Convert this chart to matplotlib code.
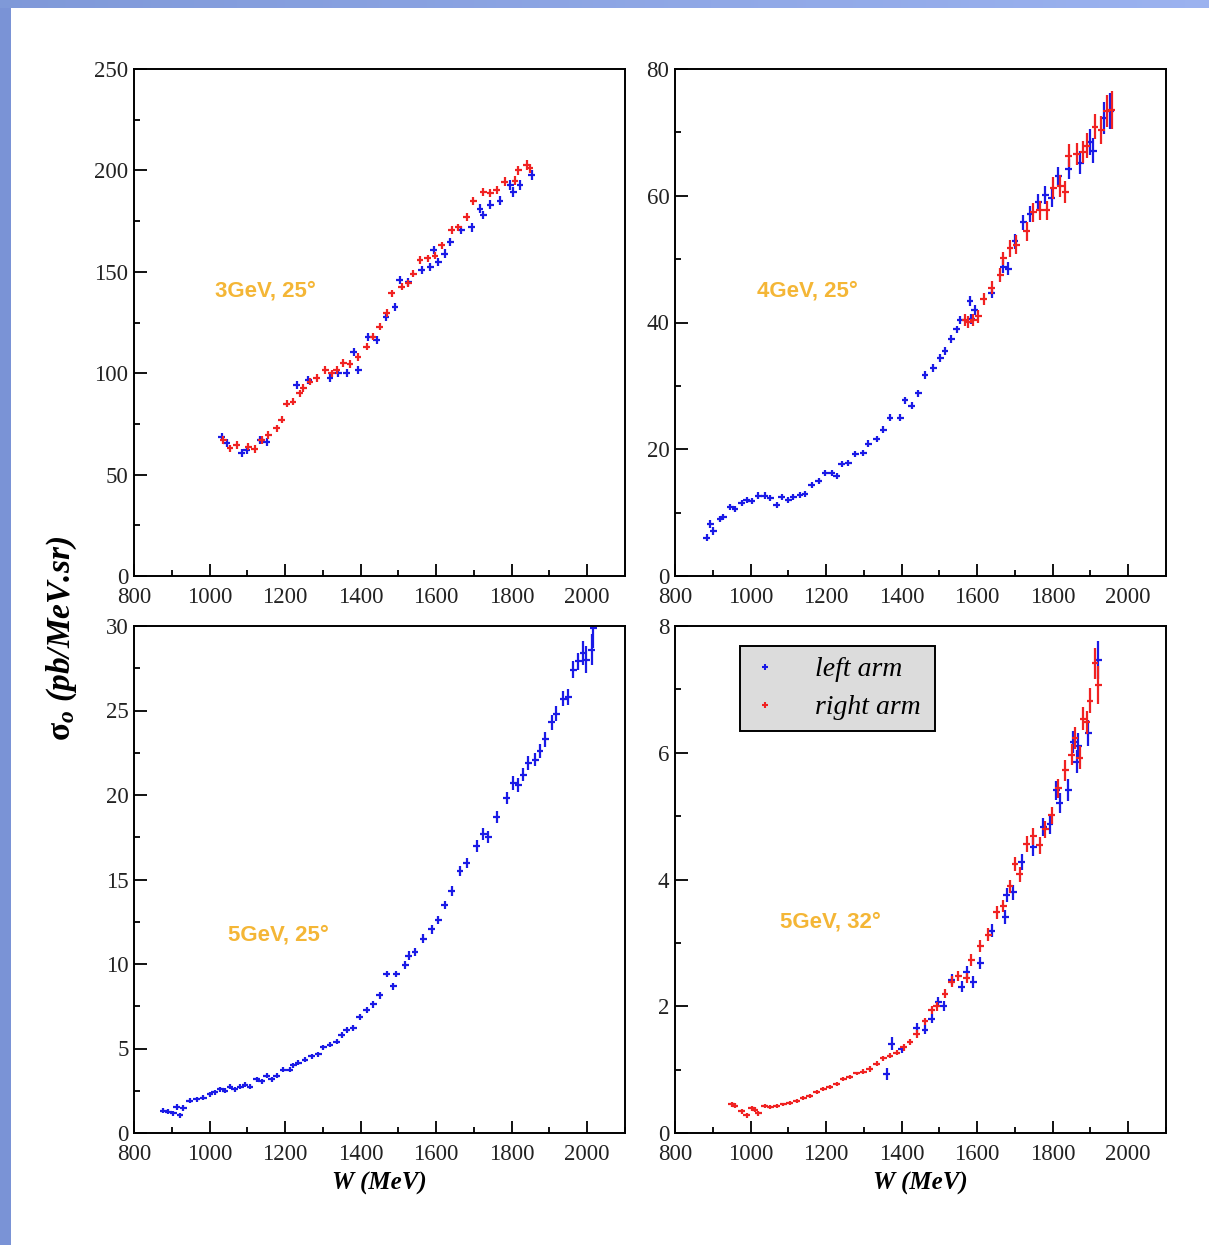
import numpy as np
import matplotlib
matplotlib.use('Agg')
import matplotlib.pyplot as plt
from matplotlib.lines import Line2D
from matplotlib.ticker import MultipleLocator

plt.rcParams['font.family'] = ['Liberation Serif', 'DejaVu Serif']
plt.rcParams['mathtext.fontset'] = 'custom'
plt.rcParams['mathtext.rm'] = 'Liberation Serif:bold'
plt.rcParams['mathtext.it'] = 'Liberation Serif:bold:italic'
plt.rcParams['mathtext.bf'] = 'Liberation Serif:bold'

# ---------------- data: (W [MeV], sigma, error) ----------------
p1_left = [(1032, 68.4, 2.0), (1045, 65.4, 2.0), (1085, 60.5, 2.0), (1098, 62.0, 2.0), (1134, 67.0, 2.0),
           (1151, 66.0, 2.0), (1231, 94.0, 2.0), (1262, 96.6, 2.0), (1319, 97.5, 2.0), (1341, 100.0, 2.0),
           (1363, 100.0, 2.0), (1382, 110.6, 2.0), (1394, 101.6, 2.0), (1420, 118.0, 2.0), (1443, 116.4, 2.0),
           (1467, 127.8, 2.0), (1491, 132.8, 2.0), (1504, 146.0, 2.0), (1526, 145.0, 2.0), (1562, 151.0, 2.0),
           (1584, 152.5, 2.0), (1593, 160.7, 2.0), (1606, 155.0, 2.0), (1623, 159.0, 2.0), (1637, 164.8, 2.0),
           (1667, 170.6, 2.0), (1694, 172.0, 2.2), (1716, 181.0, 2.2), (1725, 178.0, 2.2), (1743, 183.0, 2.2),
           (1769, 185.0, 2.2), (1796, 192.8, 2.4), (1804, 189.5, 2.4), (1822, 192.8, 2.4), (1853, 197.7, 2.5)]
p1_right = [(1036, 67.0, 1.8), (1054, 63.0, 1.8), (1072, 64.6, 1.8), (1103, 63.8, 1.8), (1120, 62.6, 1.8),
            (1138, 67.0, 1.8), (1156, 69.5, 1.8), (1178, 72.8, 1.8), (1191, 77.0, 1.8), (1204, 85.0, 1.8),
            (1221, 86.0, 1.8), (1239, 90.0, 1.8), (1248, 92.7, 1.8), (1266, 95.8, 1.8), (1284, 97.6, 1.8),
            (1306, 101.6, 1.8), (1323, 100.0, 1.8), (1337, 101.6, 1.8), (1354, 105.0, 1.8), (1372, 104.5, 1.8),
            (1393, 108.0, 1.8), (1416, 113.0, 1.8), (1433, 118.0, 1.8), (1451, 123.0, 1.8), (1469, 129.7, 1.8),
            (1482, 139.4, 1.8), (1509, 142.7, 1.8), (1526, 144.3, 1.8), (1540, 149.0, 1.8), (1557, 155.8, 1.8),
            (1578, 156.6, 1.8), (1597, 158.0, 1.8), (1615, 163.0, 1.8), (1641, 170.6, 1.8), (1659, 172.0, 1.8),
            (1681, 177.0, 2.0), (1698, 185.0, 2.0), (1725, 189.5, 2.0), (1743, 188.7, 2.0), (1760, 190.3, 2.0),
            (1782, 194.4, 2.2), (1809, 195.0, 2.2), (1817, 200.0, 2.2), (1840, 202.7, 2.4), (1848, 201.0, 2.4)]

p2_left = [(884, 6.05, 0.6), (893, 8.2, 0.6), (901, 7.1, 0.6), (919, 9.0, 0.5), (928, 9.3, 0.5),
           (946, 10.9, 0.5), (959, 10.6, 0.5), (977, 11.5, 0.5), (990, 12.0, 0.5), (1003, 11.8, 0.5),
           (1021, 12.7, 0.5), (1038, 12.7, 0.5), (1052, 12.3, 0.5), (1069, 11.2, 0.5), (1082, 12.5, 0.5),
           (1100, 12.0, 0.5), (1113, 12.5, 0.5), (1131, 12.8, 0.5), (1144, 12.9, 0.5), (1162, 14.4, 0.5),
           (1180, 15.0, 0.5), (1197, 16.3, 0.5), (1215, 16.3, 0.5), (1228, 15.8, 0.5), (1241, 17.7, 0.5),
           (1259, 17.8, 0.5), (1277, 19.3, 0.5), (1299, 19.4, 0.5), (1312, 20.9, 0.5), (1334, 21.6, 0.5),
           (1352, 23.1, 0.5), (1369, 25.0, 0.6), (1396, 25.0, 0.6), (1409, 27.7, 0.6), (1427, 26.9, 0.6),
           (1444, 28.8, 0.6), (1462, 31.7, 0.6), (1484, 32.8, 0.6), (1502, 34.4, 0.6), (1515, 35.5, 0.6),
           (1532, 37.4, 0.6), (1546, 38.9, 0.6), (1555, 40.4, 0.7), (1581, 43.4, 0.8), (1585, 40.6, 0.8),
           (1594, 42.0, 0.8), (1638, 44.7, 0.9), (1669, 48.8, 1.0), (1682, 48.5, 1.0), (1700, 52.8, 1.2),
           (1722, 55.8, 1.2), (1740, 57.1, 1.3), (1762, 59.0, 1.3), (1780, 60.1, 1.4), (1797, 59.6, 1.4),
           (1815, 63.1, 1.5), (1842, 64.2, 1.6), (1873, 65.2, 1.8), (1899, 68.5, 2.0), (1908, 67.1, 2.0),
           (1935, 72.3, 2.5), (1952, 73.4, 2.8)]
p2_right = [(1568, 40.4, 1.0), (1577, 40.1, 1.0), (1590, 40.4, 1.0), (1603, 41.0, 1.0), (1617, 43.7, 1.0),
            (1639, 45.5, 1.0), (1661, 47.5, 1.1), (1669, 50.1, 1.1), (1687, 51.7, 1.3), (1704, 52.3, 1.5),
            (1731, 54.4, 1.5), (1749, 57.4, 1.5), (1766, 57.7, 1.5), (1784, 57.7, 1.5), (1802, 61.2, 1.7),
            (1820, 61.5, 1.7), (1833, 60.6, 1.7), (1842, 66.3, 1.8), (1864, 66.6, 1.8), (1881, 66.9, 1.8),
            (1890, 67.9, 2.0), (1912, 70.9, 2.0), (1929, 70.4, 2.2), (1943, 73.4, 2.5), (1956, 73.6, 3.0)]

p3_left = [(878, 1.31, 0.15), (891, 1.27, 0.15), (904, 1.16, 0.15), (913, 1.54, 0.15), (922, 1.06, 0.15),
           (931, 1.48, 0.15), (948, 1.90, 0.15), (966, 2.0, 0.15), (984, 2.1, 0.15), (1001, 2.3, 0.15),
           (1014, 2.4, 0.15), (1028, 2.6, 0.15), (1041, 2.5, 0.15), (1054, 2.75, 0.15), (1067, 2.6, 0.15),
           (1081, 2.75, 0.15), (1094, 2.85, 0.15), (1107, 2.75, 0.15), (1125, 3.17, 0.15), (1138, 3.07, 0.15),
           (1151, 3.38, 0.15), (1165, 3.17, 0.15), (1178, 3.38, 0.15), (1195, 3.74, 0.15), (1213, 3.74, 0.15),
           (1222, 4.0, 0.15), (1235, 4.16, 0.15), (1253, 4.33, 0.15), (1270, 4.55, 0.15), (1288, 4.65, 0.15),
           (1301, 5.07, 0.15), (1319, 5.22, 0.15), (1337, 5.39, 0.15), (1350, 5.81, 0.18), (1363, 6.07, 0.18),
           (1381, 6.24, 0.18), (1398, 6.87, 0.18), (1416, 7.29, 0.18), (1434, 7.61, 0.2), (1451, 8.14, 0.2),
           (1469, 9.41, 0.2), (1487, 8.67, 0.2), (1495, 9.41, 0.2), (1518, 9.94, 0.25), (1527, 10.5, 0.25),
           (1544, 10.7, 0.25), (1566, 11.5, 0.25), (1588, 12.05, 0.25), (1606, 12.6, 0.25), (1623, 13.5, 0.25),
           (1641, 14.3, 0.3), (1663, 15.5, 0.3), (1681, 16.0, 0.3), (1707, 17.0, 0.35), (1725, 17.7, 0.35),
           (1738, 17.5, 0.35), (1760, 18.7, 0.35), (1787, 19.8, 0.35), (1804, 20.7, 0.4), (1818, 20.6, 0.4),
           (1831, 21.2, 0.4), (1844, 21.9, 0.4), (1862, 22.1, 0.4), (1875, 22.6, 0.4), (1889, 23.3, 0.45),
           (1906, 24.3, 0.45), (1918, 24.8, 0.45), (1937, 25.7, 0.45), (1950, 25.8, 0.45), (1963, 27.4, 0.5),
           (1976, 27.9, 0.5), (1989, 28.4, 0.7), (1998, 28.0, 0.8), (2012, 28.6, 0.9), (2016, 29.9, 1.2)]

p4_left = [(1360, 0.93, 0.10), (1374, 1.41, 0.10), (1400, 1.32, 0.06), (1440, 1.66, 0.07), (1462, 1.63, 0.07),
           (1480, 1.80, 0.07), (1497, 2.07, 0.08), (1511, 2.01, 0.08), (1533, 2.42, 0.09), (1559, 2.31, 0.09),
           (1572, 2.54, 0.09), (1590, 2.38, 0.09), (1608, 2.68, 0.1), (1639, 3.19, 0.1), (1674, 3.41, 0.11),
           (1678, 3.75, 0.11), (1696, 3.80, 0.12), (1718, 4.28, 0.13), (1749, 4.51, 0.14), (1775, 4.83, 0.14),
           (1793, 4.87, 0.15), (1810, 5.41, 0.15), (1819, 5.21, 0.16), (1841, 5.41, 0.17), (1855, 6.17, 0.18),
           (1868, 6.11, 0.2), (1864, 5.86, 0.18), (1894, 6.31, 0.2), (1921, 7.46, 0.3)]
p4_right = [(950, 0.45, 0.04), (959, 0.43, 0.04), (977, 0.34, 0.04), (990, 0.28, 0.04), (1003, 0.39, 0.04),
            (1012, 0.37, 0.04), (1021, 0.31, 0.04), (1038, 0.42, 0.03), (1052, 0.41, 0.03), (1069, 0.42, 0.03),
            (1087, 0.45, 0.03), (1104, 0.47, 0.03), (1122, 0.51, 0.03), (1140, 0.55, 0.03), (1157, 0.59, 0.03),
            (1175, 0.65, 0.03), (1193, 0.69, 0.03), (1210, 0.73, 0.03), (1228, 0.77, 0.03), (1246, 0.85, 0.03),
            (1263, 0.88, 0.03), (1281, 0.94, 0.03), (1299, 0.97, 0.04), (1316, 1.01, 0.04), (1334, 1.09, 0.04),
            (1352, 1.18, 0.04), (1369, 1.22, 0.04), (1387, 1.27, 0.04), (1405, 1.35, 0.05), (1422, 1.44, 0.05),
            (1440, 1.56, 0.06), (1462, 1.76, 0.06), (1480, 1.94, 0.06), (1493, 2.0, 0.07), (1515, 2.2, 0.07),
            (1533, 2.39, 0.08), (1550, 2.48, 0.08), (1572, 2.45, 0.08), (1585, 2.73, 0.09), (1608, 2.95, 0.09),
            (1630, 3.13, 0.1), (1652, 3.48, 0.1), (1669, 3.58, 0.1), (1687, 3.89, 0.11), (1700, 4.25, 0.11),
            (1713, 4.08, 0.12), (1731, 4.56, 0.12), (1749, 4.68, 0.13), (1766, 4.54, 0.13), (1780, 4.79, 0.14),
            (1797, 5.01, 0.14), (1815, 5.44, 0.15), (1833, 5.72, 0.16), (1850, 5.97, 0.17), (1859, 6.23, 0.17),
            (1872, 5.92, 0.18), (1881, 6.54, 0.18), (1890, 6.48, 0.18), (1899, 6.82, 0.2), (1912, 7.41, 0.25),
            (1921, 7.07, 0.3)]

labels = ['3GeV, 25°', '4GeV, 25°', '5GeV, 25°', '5GeV, 32°']
legend_labels = ['left arm', 'right arm']
W_BIN = 9  # half bin width in MeV

BLUE = '#1a1ae6'
RED = '#f02222'
ORANGE = '#f4b636'

# ---------------- figure ----------------
FW, FH = 1209, 1245
fig = plt.figure(figsize=(FW / 100, FH / 100), dpi=100)

# slide background: blue strips at left and top
bg = fig.add_axes([0, 0, 1, 1], zorder=-10)
img = np.ones((FH, FW, 3))
left_col = np.array([0.48, 0.58, 0.84])
img[:, :11, :] = left_col
tfrac = np.linspace(0, 1, FW)[:, None]
top_cols = (1 - tfrac) * np.array([0.50, 0.60, 0.85]) + tfrac * np.array([0.61, 0.70, 0.94])
img[:8, :, :] = top_cols[None, :, :]
bg.imshow(img, aspect='auto', extent=[0, 1, 0, 1])
bg.set_axis_off()

def frac(x0, y0, x1, y1):
    return [x0 / FW, 1 - y1 / FH, (x1 - x0) / FW, (y1 - y0) / FH]

panels = [
    dict(rect=frac(134, 69, 625, 576), ymax=250, major=50, minor=25,
         series=[(p1_left, BLUE), (p1_right, RED)], txt=(0.165, 0.562)),
    dict(rect=frac(675, 69, 1166, 576), ymax=80, major=20, minor=10,
         series=[(p2_left, BLUE), (p2_right, RED)], txt=(0.167, 0.562)),
    dict(rect=frac(134, 626, 625, 1133), ymax=30, major=5, minor=2.5,
         series=[(p3_left, BLUE)], txt=(0.191, 0.391)),
    dict(rect=frac(675, 626, 1166, 1133), ymax=8, major=2, minor=1,
         series=[(p4_left, BLUE), (p4_right, RED)], txt=(0.214, 0.416)),
]

axes = []
for i, p in enumerate(panels):
    ax = fig.add_axes(p['rect'])
    axes.append(ax)
    for data, col in p['series']:
        arr = np.array(data)
        ax.errorbar(arr[:, 0], arr[:, 1], xerr=W_BIN, yerr=arr[:, 2], fmt='none',
                    ecolor=col, elinewidth=1.6, capsize=0)
    ax.set_xlim(800, 2100)
    ax.set_ylim(0, p['ymax'])
    ax.xaxis.set_major_locator(MultipleLocator(200))
    ax.xaxis.set_minor_locator(MultipleLocator(100))
    ax.yaxis.set_major_locator(MultipleLocator(p['major']))
    ax.yaxis.set_minor_locator(MultipleLocator(p['minor']))
    ax.tick_params(which='both', direction='in', top=False, right=False,
                   labelsize=16.5, labelcolor='#222222', width=1.3)
    ax.tick_params(which='major', length=9)
    ax.tick_params(which='minor', length=4.5)
    ax.tick_params(axis='x', pad=8)
    ax.tick_params(axis='y', pad=4)
    for s in ax.spines.values():
        s.set_linewidth(1.4)
    ax.text(p['txt'][0], p['txt'][1], labels[i], transform=ax.transAxes,
            family='Liberation Sans', fontweight='bold', fontsize=16, color=ORANGE,
            ha='left', va='center')
    if i >= 2:
        ax.set_xlabel('W (MeV)', fontsize=18, fontweight='bold', style='italic', labelpad=5)

# legend in the last panel
handles = [Line2D([], [], color=BLUE, marker='+', markersize=5, markeredgewidth=1.5, linestyle='none'),
           Line2D([], [], color=RED, marker='+', markersize=5, markeredgewidth=1.5, linestyle='none')]
leg = axes[3].legend(handles, legend_labels, loc='upper left', bbox_to_anchor=(0.132, 0.961, 0.398, 0.0),
                     mode='expand', fancybox=False, framealpha=1, facecolor='#dcdcdc', edgecolor='black',
                     prop=dict(family='Liberation Serif', style='italic', size=20),
                     borderpad=0.4, labelspacing=0.45, handlelength=1.0, handletextpad=1.3,
                     borderaxespad=0)
leg.get_frame().set_linewidth(1.4)
leg._legend_box.align = 'left'

fig.text(62 / FW, 1 - 638 / FH, r'$\mathrm{\sigma}_o$ (pb/MeV.sr)', rotation=90,
         fontsize=24, fontweight='bold', style='italic', ha='center', va='center')

fig.savefig('out.png', dpi=100)
